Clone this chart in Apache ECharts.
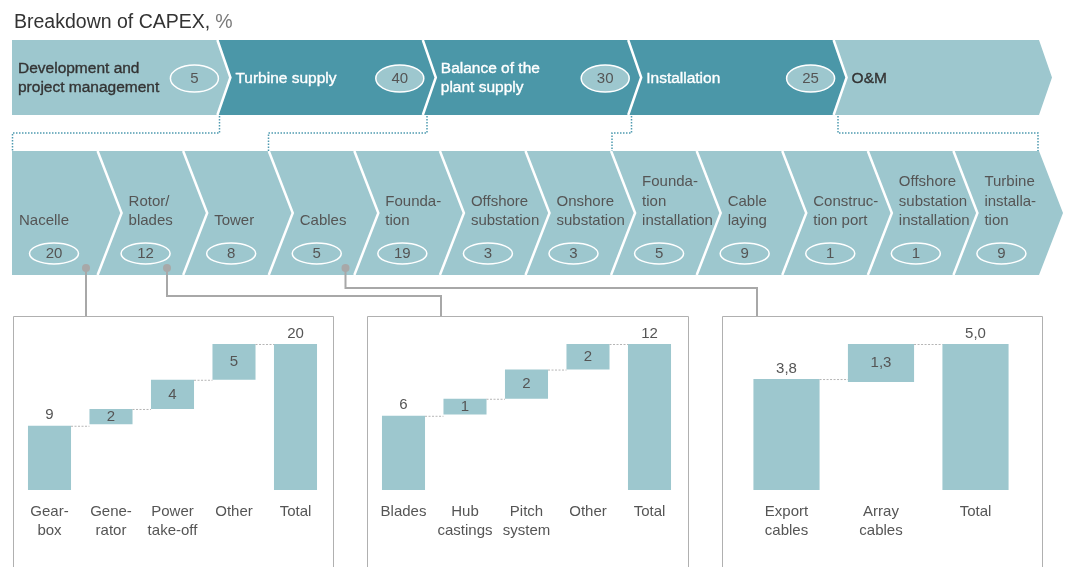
<!DOCTYPE html>
<html><head><meta charset="utf-8">
<script src="https://cdn.jsdelivr.net/npm/echarts@6/dist/echarts.min.js"></script>
<style>html,body{margin:0;padding:0;background:#fff}#c{width:1069px;height:567px}</style>
</head><body><div id="c"></div><script>
// ---- data ----
const stageNames = ['Development and\nproject management', 'Turbine supply', 'Balance of the\nplant supply', 'Installation', 'O&M'];
const stageValues = [5, 40, 30, 25, null];
const itemNames = ['Nacelle', 'Rotor/\nblades', 'Tower', 'Cables', 'Founda-\ntion', 'Offshore\nsubstation', 'Onshore\nsubstation', 'Founda-\ntion\ninstallation', 'Cable\nlaying', 'Construc-\ntion port', 'Offshore\nsubstation\ninstallation', 'Turbine\ninstalla-\ntion'];
const itemValues = [20, 12, 8, 5, 19, 3, 3, 5, 9, 1, 1, 9];
const nacelleCategories = ['Gear-\nbox', 'Gene-\nrator', 'Power\ntake-off', 'Other', 'Total'];
const nacelleValues = [8.8, 2.1, 4.0, 4.9, 20];
const rotorCategories = ['Blades', 'Hub\ncastings', 'Pitch\nsystem', 'Other', 'Total'];
const rotorValues = [6.1, 1.3, 2.4, 2.1, 12];
const cableCategories = ['Export\ncables', 'Array\ncables', 'Total'];
const cableValues = [3.8, 1.3, 5.0];

// ---- styles ----
const FONT = '"Liberation Sans", Arial, Helvetica, sans-serif';
const LIGHT = '#9dc7ce', DARK = '#4b97a8', TXT = '#555555';
const DARK_STAGES = [1, 2, 3];

function fmt(v, dec) {
  return dec ? v.toFixed(dec).replace('.', ',') : String(Math.round(v));
}

function bandInfo(params, api) {
  const i = api.value(0);
  const cs = params.coordSys;
  const band = api.size([1, 0])[0];
  const cx = api.coord([i, 0])[0];
  return { i, left: cx - band / 2, right: cx + band / 2, top: cs.y, bottom: cs.y + cs.height, mid: cs.y + cs.height / 2 };
}

function renderStage(params, api) {
  const b = bandInfo(params, api);
  const i = b.i, d = 13;
  const dark = DARK_STAGES.indexOf(i) >= 0;
  const pts = [[b.left, b.top], [b.right, b.top], [b.right + d, b.mid], [b.right, b.bottom], [b.left, b.bottom]];
  if (i > 0) pts.push([b.left + d, b.mid]);
  const children = [{ type: 'polygon', shape: { points: pts }, style: { fill: dark ? DARK : LIGHT } }];
  if (i > 0) children.push({ type: 'polyline', shape: { points: [[b.left, b.top], [b.left + d, b.mid], [b.left, b.bottom]] }, style: { stroke: '#fff', lineWidth: 2.5, fill: 'none' } });
  const tc = dark ? '#ffffff' : '#333333';
  children.push({ type: 'text', style: { text: stageNames[i], x: b.left + (i === 0 ? 6 : 18), y: b.mid + 1, fill: tc, stroke: tc, lineWidth: 0.35, fontSize: 15.5, fontFamily: FONT, verticalAlign: 'middle', align: 'left', lineHeight: 19 } });
  const v = stageValues[i];
  if (v != null) {
    const cx = b.right - 23, cy = b.mid + 1;
    children.push({ type: 'ellipse', shape: { cx, cy, rx: 24, ry: 13.5 }, style: { fill: LIGHT, stroke: '#fff', lineWidth: 1.5 } });
    children.push({ type: 'text', style: { text: String(v), x: cx, y: cy, fill: TXT, fontSize: 15, fontFamily: FONT, align: 'center', verticalAlign: 'middle' } });
  }
  return { type: 'group', children };
}

function renderItem(params, api) {
  const b = bandInfo(params, api);
  const i = b.i, d = 24;
  const pts = [[b.left, b.top], [b.right, b.top], [b.right + d, b.mid], [b.right, b.bottom], [b.left, b.bottom]];
  if (i > 0) pts.push([b.left + d, b.mid]);
  const children = [{ type: 'polygon', shape: { points: pts }, style: { fill: LIGHT } }];
  if (i > 0) children.push({ type: 'polyline', shape: { points: [[b.left, b.top], [b.left + d, b.mid], [b.left, b.bottom]] }, style: { stroke: '#fff', lineWidth: 2.5, fill: 'none' } });
  children.push({ type: 'text', style: { text: itemNames[i], x: b.left + (i === 0 ? 7 : 31), y: b.bottom - 44, fill: TXT, fontSize: 15, fontFamily: FONT, verticalAlign: 'bottom', align: 'left', lineHeight: 19.5 } });
  const cx = b.left + (i === 0 ? 42 : 48), cy = b.bottom - 21.5;
  children.push({ type: 'ellipse', shape: { cx, cy, rx: 24.5, ry: 10.5 }, style: { fill: 'none', stroke: '#fff', lineWidth: 1.5 } });
  children.push({ type: 'text', style: { text: String(itemValues[i]), x: cx, y: cy, fill: TXT, fontSize: 15, fontFamily: FONT, align: 'center', verticalAlign: 'middle' } });
  return { type: 'group', children };
}

function waterfall(vals) {
  const n = vals.length, total = vals[n - 1];
  const bases = vals.map((v, i) => {
    if (i === 0 || i === n - 1) return 0;
    let s = 0; for (let k = i; k < n - 1; k++) s += vals[k];
    return +(total - s).toFixed(3);
  });
  const levels = vals.map((v, i) => +(bases[i] + v).toFixed(3));
  return { bases, levels, total };
}

const panels = [
  { cats: nacelleCategories, vals: nacelleValues, dec: 0, grid: { left: 18.75, top: 344, width: 307.5, height: 146 } },
  { cats: rotorCategories, vals: rotorValues, dec: 0, grid: { left: 372.75, top: 344, width: 307.5, height: 146 } },
  { cats: cableCategories, vals: cableValues, dec: 1, grid: { left: 739.25, top: 344, width: 283.5, height: 146 } }
];

const grid = [
  { left: 12, top: 40, width: 1027, height: 75 },
  { left: 12, top: 151, width: 1027, height: 124 }
];
const xAxis = [
  { gridIndex: 0, type: 'category', data: stageNames, show: false },
  { gridIndex: 1, type: 'category', data: itemNames, show: false }
];
const yAxis = [
  { gridIndex: 0, type: 'value', min: 0, max: 1, show: false },
  { gridIndex: 1, type: 'value', min: 0, max: 1, show: false }
];
const series = [
  { type: 'custom', xAxisIndex: 0, yAxisIndex: 0, data: stageNames.map((n, i) => [i, 0]), renderItem: renderStage, silent: true },
  { type: 'custom', xAxisIndex: 1, yAxisIndex: 1, data: itemNames.map((n, i) => [i, 0]), renderItem: renderItem, silent: true }
];

panels.forEach((p, k) => {
  const g = k + 2;
  const w = waterfall(p.vals);
  const n = p.vals.length;
  grid.push(p.grid);
  xAxis.push({ gridIndex: g, type: 'category', data: p.cats, axisLine: { show: false }, axisTick: { show: false },
    axisLabel: { interval: 0, fontSize: 15, color: TXT, fontFamily: FONT, lineHeight: 19.5, margin: 12 } });
  yAxis.push({ gridIndex: g, type: 'value', min: 0, max: w.total, show: false });
  series.push({ type: 'bar', xAxisIndex: g, yAxisIndex: g, stack: 'wf' + k, barWidth: '70%', silent: true,
    itemStyle: { color: 'transparent' }, data: w.bases });
  series.push({ type: 'bar', xAxisIndex: g, yAxisIndex: g, stack: 'wf' + k, barWidth: '70%', silent: true,
    itemStyle: { color: LIGHT },
    label: { show: true, color: TXT, fontSize: 15, fontFamily: FONT, distance: 3, formatter: (q) => fmt(p.vals[q.dataIndex], p.dec) },
    data: p.vals.map((v, i) => ({ value: v, label: { position: (i === 0 || i === n - 1) ? 'top' : 'inside' } })) });
  series.push({ type: 'custom', xAxisIndex: g, yAxisIndex: g, silent: true, z: 3,
    data: w.levels.slice(0, n - 1).map((lv, i) => [i, lv]),
    renderItem: (params, api) => {
      const i = api.value(0), lv = api.value(1);
      const bw = api.size([1, 0])[0] * 0.7;
      const a = api.coord([i, lv]), b = api.coord([i + 1, lv]);
      return { type: 'line', shape: { x1: a[0] + bw / 2, y1: a[1] + 0.5, x2: b[0] - bw / 2, y2: a[1] + 0.5 },
        style: { stroke: '#b5b5b5', lineWidth: 1, lineDash: [2, 1.5] } };
    } });
});

const CONN = '#a8a8a8', DOT = '#4f9ab0';
const dotted = { stroke: DOT, lineWidth: 1.5, lineDash: [1.5, 1.5], fill: 'none' };
const graphic = [
  { type: 'rect', shape: { x: 13.5, y: 316.5, width: 320, height: 300 }, style: { fill: 'none', stroke: '#b0b0b0', lineWidth: 1 }, silent: true },
  { type: 'rect', shape: { x: 367.5, y: 316.5, width: 321, height: 300 }, style: { fill: 'none', stroke: '#b0b0b0', lineWidth: 1 }, silent: true },
  { type: 'rect', shape: { x: 722.5, y: 316.5, width: 320, height: 300 }, style: { fill: 'none', stroke: '#b0b0b0', lineWidth: 1 }, silent: true },
  { type: 'polyline', z: 100, shape: { points: [[86, 268], [86, 316]] }, style: { stroke: CONN, lineWidth: 2, fill: 'none' } },
  { type: 'polyline', z: 100, shape: { points: [[167, 268], [167, 296], [441, 296], [441, 316]] }, style: { stroke: CONN, lineWidth: 2, fill: 'none' } },
  { type: 'polyline', z: 100, shape: { points: [[345.5, 268], [345.5, 288], [757, 288], [757, 316]] }, style: { stroke: CONN, lineWidth: 2, fill: 'none' } },
  { type: 'circle', z: 101, shape: { cx: 86, cy: 268, r: 4 }, style: { fill: CONN } },
  { type: 'circle', z: 101, shape: { cx: 167, cy: 268, r: 4 }, style: { fill: CONN } },
  { type: 'circle', z: 101, shape: { cx: 345.5, cy: 268, r: 4 }, style: { fill: CONN } },
  { type: 'polyline', z: 100, shape: { points: [[219.5, 116], [219.5, 133], [12.5, 133], [12.5, 151]] }, style: dotted },
  { type: 'polyline', z: 100, shape: { points: [[427, 116], [427, 133], [268.5, 133], [268.5, 151]] }, style: dotted },
  { type: 'polyline', z: 100, shape: { points: [[631.5, 116], [631.5, 133], [612, 133], [612, 151]] }, style: dotted },
  { type: 'polyline', z: 100, shape: { points: [[838, 116], [838, 133], [1038, 133], [1038, 151]] }, style: dotted }
];

const chart = echarts.init(document.getElementById('c'), null, { renderer: 'canvas' });
chart.setOption({
  animation: false,
  backgroundColor: '#ffffff',
  title: {
    text: '{a|Breakdown of CAPEX,} {b|%}', left: 9, top: 8,
    textStyle: { fontWeight: 'normal', rich: {
      a: { fontSize: 19.5, color: '#333333', fontFamily: FONT, fontWeight: 'normal' },
      b: { fontSize: 19.5, color: '#7a7a7a', fontFamily: FONT, fontWeight: 'normal' } } }
  },
  grid, xAxis, yAxis, series, graphic
});
</script></body></html>
